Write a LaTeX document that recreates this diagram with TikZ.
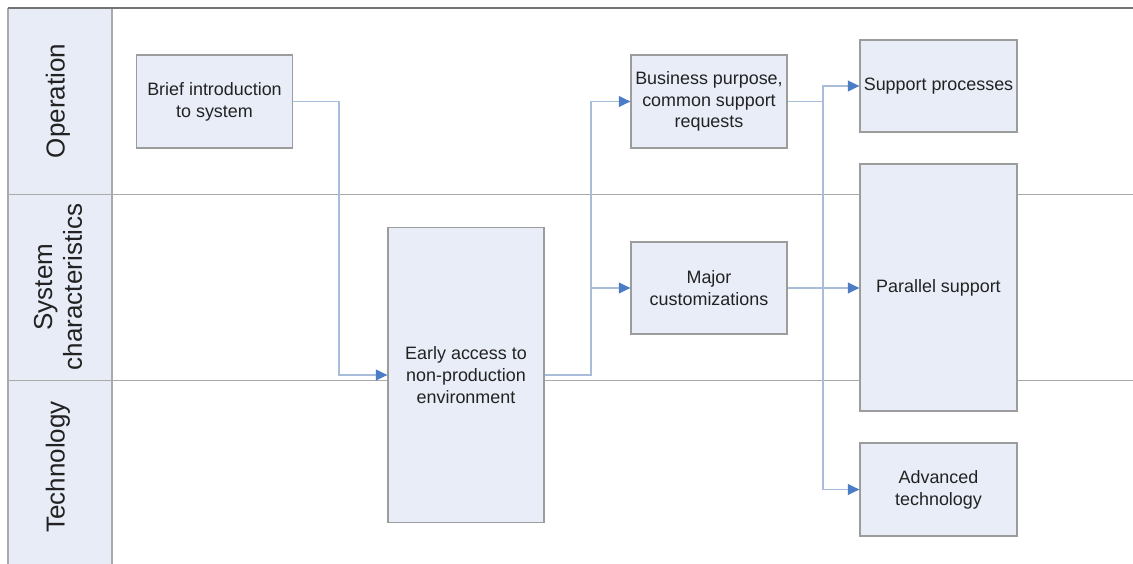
\documentclass[tikz,border=0pt]{standalone}
\usepackage{fontspec}
\setmainfont{Liberation Sans}
\usetikzlibrary{arrows.meta, positioning, calc}
\definecolor{boxfill}{HTML}{E8EDF8}
\definecolor{boxline}{HTML}{9C9C9C}
\definecolor{lanefill}{HTML}{E7ECF7}
\definecolor{laneline}{HTML}{AAAAAA}
\definecolor{flowcol}{HTML}{A9BDDB}
\definecolor{tipcol}{HTML}{4A7DC6}
\definecolor{textcol}{HTML}{222222}

\begin{document}
\begin{tikzpicture}[
    x=0.02cm, y=-0.02cm,
    every node/.style={font=\fontsize{10.2}{12.4}\selectfont, text=textcol},
    block/.style={
        draw=boxline, fill=boxfill, line width=0.8pt,
        minimum width=3.12cm, minimum height=1.86cm,
        align=center, inner sep=2pt
    },
    lane/.style={rotate=90, align=center,
        font=\fontsize{14.8}{17}\selectfont},
    flow/.style={draw=flowcol, line width=0.6pt,
        -{Triangle[length=0.23cm, width=0.22cm, color=tipcol]}},
]

\useasboundingbox[fill=white] (0,0) rectangle (1133,564);

% ===== Lanes =====
\fill[lanefill] (8,8) rectangle (112,564);
\draw[laneline, line width=0.6pt] (8,8) -- (8,564);
\draw[laneline, line width=0.6pt] (112,8) -- (112,564);
\draw[laneline, line width=0.5pt] (8,194) -- (1133,194);
\draw[laneline, line width=0.5pt] (8,380) -- (1133,380);
\draw[black!55, line width=0.9pt] (8,8) -- (1133,8);

\node[lane] (operation) at (58,101) {Operation};
\node[lane] (syschar) at (58,287) {System\\characteristics};
\node[lane] (technology) at (58,467) {Technology};

% ===== Boxes =====
\node[block] (intro) at (214.5,101.5) {Brief introduction\\to system};
\node[block, minimum height=5.9cm] (early) at (466,375)
     {Early access to\\non-production\\environment};
\node[block] (business) at (709,101.5)
     {Business purpose,\\common support\\requests};
\node[block, minimum height=1.84cm] (major) at (709,288)
     {Major\\customizations};
\node[block, minimum width=3.14cm, minimum height=1.84cm] (support) at (938.5,86)
     {Support processes};
\node[block, minimum width=3.14cm, minimum height=4.94cm] (parallel) at (938.5,287.5)
     {Parallel support};
\node[block, minimum width=3.14cm] (advanced) at (938.5,489.5)
     {Advanced\\technology};

% ===== Junctions =====
\coordinate (j1) at (339,0);
\coordinate (j2) at (591,0);
\coordinate (j3) at (823,0);

% ===== ARROWS =====
\draw[flow] (intro.east) -| (j1 |- early.west) -- (early.west);

\draw[flow] (early.east) -| (j2 |- business.west) -- (business.west);
\draw[flow] (j2 |- major.west) -- (major.west);

\draw[flow] (business.east) -| (j3 |- support.west) -- (support.west);
\draw[flow] (j3 |- support.west) |- (advanced.west);
\draw[flow] (major.east) -- (parallel.west |- major.east);

\end{tikzpicture}
\end{document}
